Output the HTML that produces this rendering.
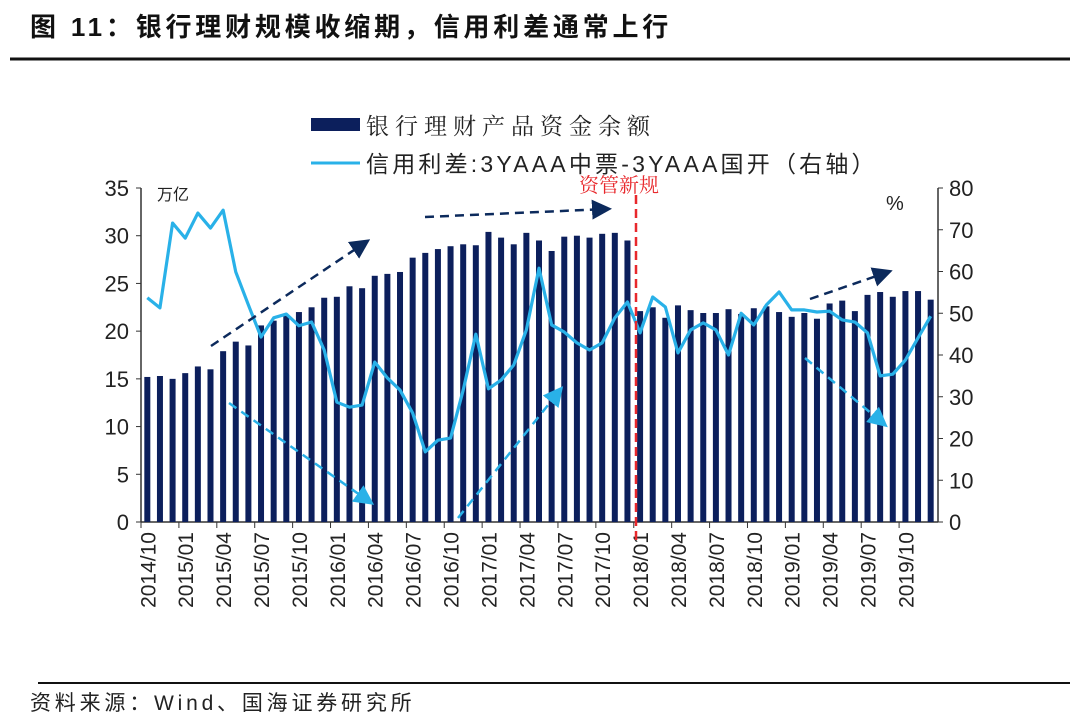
<!DOCTYPE html>
<html><head><meta charset="utf-8"><style>
body{margin:0;background:#fff;width:1080px;height:720px;overflow:hidden}
svg{display:block}
text{font-family:"Liberation Sans","Noto Sans CJK SC",sans-serif}
.cn{font-family:"Noto Serif CJK SC","Noto Sans CJK SC",serif}
</style></head><body>
<svg id="chart" width="1080" height="720">
<text x="30" y="36" font-size="26" font-weight="bold" fill="#111" letter-spacing="3.8">图 11：银行理财规模收缩期，信用利差通常上行</text>
<line x1="10" y1="59" x2="1070" y2="59" stroke="#111" stroke-width="3"/>
<g>
<rect x="311" y="118" width="49" height="13" fill="#0c1f5c"/>
<text class="cn" x="366" y="134" font-size="23" fill="#222" letter-spacing="6">银行理财产品资金余额</text>
<line x1="311" y1="163" x2="360" y2="163" stroke="#29b1e8" stroke-width="3"/>
<text x="366" y="172" font-size="23" fill="#222" letter-spacing="3.2">信用利差:3YAAA中票-3YAAA国开（右轴）</text>
</g>
<text x="157" y="200" font-size="16" fill="#222">万亿</text>
<text x="886" y="210" font-size="20" fill="#222">%</text>
<g id="axes"></g>
<g id="bars"></g>
<g id="line"></g>
<g id="annot"></g>
<line x1="38" y1="683" x2="1070" y2="683" stroke="#111" stroke-width="2"/>
<text x="30" y="710" font-size="21" fill="#222" letter-spacing="3.8">资料来源：Wind、国海证券研究所</text>
</svg>
<script>
const startYear=2014, startMonth=10;
const aum=[15.2,15.3,15.0,15.6,16.3,16.0,17.9,18.9,18.5,20.6,21.1,21.7,22.0,22.5,23.5,23.6,24.7,24.5,25.8,26.0,26.2,27.7,28.2,28.6,28.9,29.1,29.0,30.4,29.8,29.1,30.3,29.5,28.4,29.9,30.0,29.8,30.2,30.3,29.5,22.1,22.5,21.4,22.7,22.2,21.9,21.9,22.3,21.8,22.4,22.6,22.0,21.5,21.9,21.3,22.9,23.2,22.1,23.8,24.1,23.6,24.2,24.2,23.3];
const spread=[53.7,51.3,71.6,68.0,74.0,70.4,74.7,59.9,52.0,44.3,48.9,49.8,47.0,47.9,41.2,28.7,27.5,28.0,38.3,34.5,31.6,26.1,16.8,19.6,20.1,31.6,45.0,31.9,34.0,37.6,46.0,60.8,47.2,45.5,42.9,41.2,42.9,48.9,52.7,45.3,53.9,51.5,40.5,46.0,47.7,46.0,40.0,50.0,47.2,52.0,55.1,50.8,50.8,50.3,50.5,48.4,47.9,45.3,35.0,35.4,38.8,44.1,49.3];
const leftTicks=[0,5,10,15,20,25,30,35];
const rightTicks=[0,10,20,30,40,50,60,70,80];
const NS="http://www.w3.org/2000/svg";
const X0=141,X1=937,Y0=522,Y1=188,n=aum.length,step=(X1-X0)/n;
const xc=i=>X0+step*(i+0.5);
const yL=v=>Y0-(Y0-Y1)*v/35;
const yR=v=>Y0-(Y0-Y1)*v/80;
function mk(tag,attrs,parent){const e=document.createElementNS(NS,tag);for(const k in attrs)e.setAttribute(k,attrs[k]);parent.appendChild(e);return e;}
const ax=document.getElementById('axes');
let e=mk('line',{x1:X0,y1:Y1,x2:X0,y2:Y0,stroke:'#333','stroke-width':1.5},ax);


e=mk('line',{x1:X1+1,y1:Y1,x2:X1+1,y2:Y0,stroke:'#333','stroke-width':1.5},ax);


e=mk('line',{x1:X0,y1:Y0,x2:X1+1,y2:Y0,stroke:'#333','stroke-width':1.5},ax);


leftTicks.forEach(v=>{mk('line',{x1:X0-5,y1:yL(v),x2:X0,y2:yL(v),stroke:'#333'},ax);
const t=mk('text',{x:X0-12,y:yL(v)+8,'font-size':22,'text-anchor':'end',fill:'#222'},ax);t.textContent=v;

});
rightTicks.forEach(v=>{mk('line',{x1:X1+1,y1:yR(v),x2:X1+6,y2:yR(v),stroke:'#333'},ax);
const t=mk('text',{x:X1+12,y:yR(v)+8,'font-size':22,fill:'#222'},ax);t.textContent=v;

});
for(let i=0;i<n;i++){
 if(i%3===0){mk('line',{x1:X0+step*i,y1:Y0,x2:X0+step*i,y2:Y0+6,stroke:'#333'},ax);
 let m=startMonth-1+i,yy=startYear+Math.floor(m/12),mm=m%12+1;
 const t=mk('text',{x:0,y:0,'font-size':21,'text-anchor':'end',fill:'#222',transform:`translate(${xc(i)+8},${Y0+10}) rotate(-90)`},ax);
 t.textContent=yy+'/'+String(mm).padStart(2,'0');
 
 }
}
const bg=document.getElementById('bars');
aum.forEach((v,i)=>{const r=mk('rect',{x:xc(i)-3,y:yL(v),width:6,height:Y0-yL(v),fill:'#0c1f5c'},bg);

});
const lg=document.getElementById('line');
const p=mk('polyline',{points:spread.map((v,i)=>xc(i)+','+yR(v)).join(' '),fill:'none',stroke:'#29b1e8','stroke-width':3.2,'stroke-linejoin':'round'},lg);


const an=document.getElementById('annot');
const defs=mk('defs',{},an);
[['ad','#0c2a5c'],['al','#29b1e8']].forEach(([id,c])=>{const m=mk('marker',{id:id,markerWidth:8,markerHeight:8,refX:6,refY:4,orient:'auto',markerUnits:'strokeWidth'},defs);mk('path',{d:'M0,0 L8,4 L0,8 z',fill:c},m);});
function arrow(x1,y1,x2,y2,c,id,name){const l=mk('line',{x1,y1,x2,y2,stroke:c,'stroke-width':2.5,'stroke-dasharray':'9,6','marker-end':`url(#${id})`},an);

}
arrow(211,346,366,242,'#0c2a5c','ad','up-arrow-1');
arrow(425,217,607,209,'#0c2a5c','ad','flat-arrow');
arrow(810,299,888,272,'#0c2a5c','ad','up-arrow-2');
arrow(229,403,370,502,'#29b1e8','al','down-arrow-1');
arrow(458,518,560,390,'#29b1e8','al','up-arrow-light');
arrow(805,358,884,424,'#29b1e8','al','down-arrow-2');
const dl=mk('line',{x1:636,y1:195,x2:636,y2:540,stroke:'#e8282c','stroke-width':2.5,'stroke-dasharray':'9,5'},an);


const pt=mk('text',{x:579,y:192,'font-size':20,fill:'#e8282c',class:'cn'},an);pt.textContent='资管新规';


</script>
</body></html>
